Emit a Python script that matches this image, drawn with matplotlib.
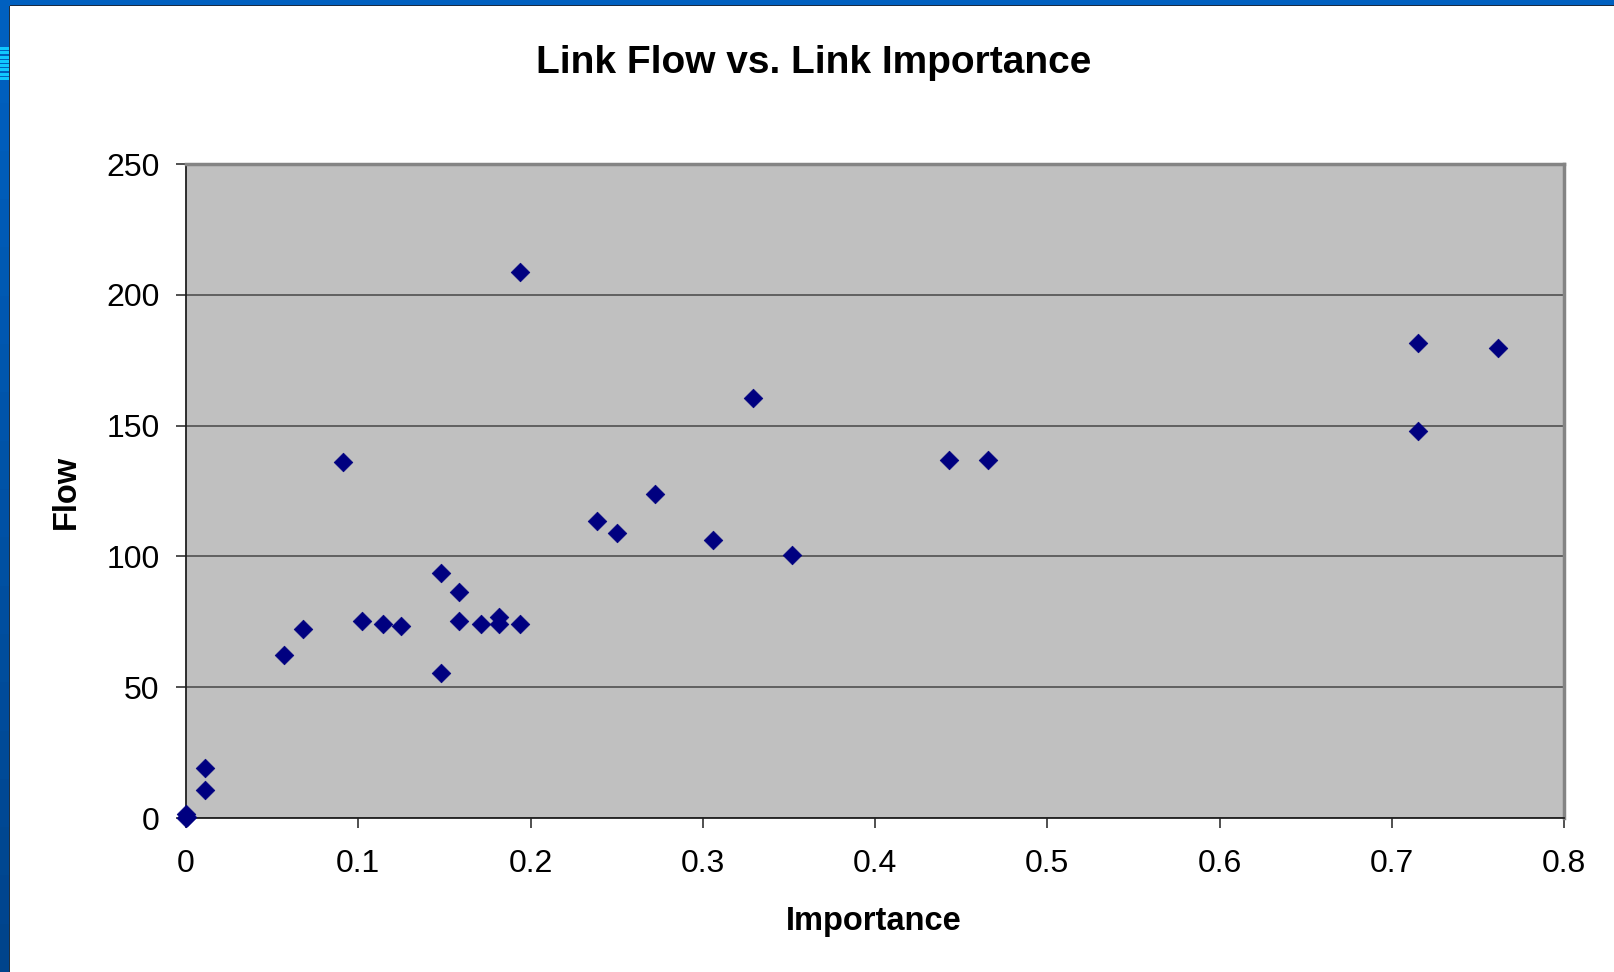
import matplotlib
matplotlib.use("Agg")
import matplotlib.pyplot as plt
from matplotlib.patches import Rectangle

plt.rcParams['font.family'] = ['Liberation Sans', 'DejaVu Sans']

importance = [0.0, 0.0, 0.0005, 0.011, 0.011, 0.0571, 0.0681, 0.0909, 0.1020, 0.1142,
              0.1248, 0.1478, 0.1478, 0.1587, 0.1587, 0.1711, 0.1819, 0.1819, 0.1939,
              0.1937, 0.2386, 0.2505, 0.2720, 0.3060, 0.3289, 0.3516, 0.4430, 0.4658,
              0.7154, 0.7154, 0.7615]
flow = [0.0, 1.5, 0.5, 19.0, 10.7, 62.2, 72.4, 136.0, 75.2, 74.2,
        73.4, 93.8, 55.4, 86.3, 75.2, 74.2, 76.9, 74.2, 74.2,
        208.7, 113.6, 108.9, 123.8, 106.1, 160.4, 100.6, 136.8, 136.8,
        181.6, 147.9, 179.8]

x_ticks = [0, 0.1, 0.2, 0.3, 0.4, 0.5, 0.6, 0.7, 0.8]
x_ticklabels = ["0", "0.1", "0.2", "0.3", "0.4", "0.5", "0.6", "0.7", "0.8"]
y_ticks = [0, 50, 100, 150, 200, 250]

W, H = 1614, 972
fig = plt.figure(figsize=(W / 100, H / 100), dpi=100)
fig.patch.set_facecolor("white")

# window frame decoration
def px_rect(x0, y0, w, h, color):
    fig.patches.append(Rectangle((x0 / W, 1 - (y0 + h) / H), w / W, h / H,
                                 transform=fig.transFigure, color=color, zorder=0, lw=0))

px_rect(0, 0, W, 6, "#0060C0")
px_rect(10, 5, W, 1.5, "#1a2a40")
nseg = 20
for i in range(nseg):
    r = i / (nseg - 1)
    c0 = (0x00, 0x60, 0xC0)
    c1 = (0x00, 0x44, 0x8C)
    col = tuple((c0[k] + (c1[k] - c0[k]) * r) / 255 for k in range(3))
    px_rect(0, 6 + i * (H - 6) / nseg, 9, (H - 6) / nseg + 1, col)
for i in range(8):
    px_rect(0, 47 + i * 4.3, 9, 3, "#10C8FF")
px_rect(9, 6, 1.3, H, "#203040")

ax = fig.add_axes([186 / W, 1 - 818 / H, (1564 - 186) / W, (818 - 164) / H])
ax.set_facecolor("#C0C0C0")

ax.scatter(importance, flow, marker="D", s=90, color="#000080", zorder=3,
           linewidths=0.5, edgecolors="#000080", clip_on=False)

ax.set_xlim(0, 0.8)
ax.set_ylim(0, 250)
ax.set_xticks(x_ticks)
ax.set_xticklabels(x_ticklabels)
ax.set_yticks(y_ticks)
ax.yaxis.grid(True, color="#585858", linewidth=1.3)
ax.set_axisbelow(True)

for side in ("left", "bottom"):
    ax.spines[side].set_color("#202020")
    ax.spines[side].set_linewidth(1.3)
for side in ("top", "right"):
    ax.spines[side].set_color("#848484")
    ax.spines[side].set_linewidth(2.5)

ax.tick_params(axis="both", direction="out", length=7, width=1.1, color="#202020",
               labelsize=23)
ax.tick_params(axis="x", pad=15)
ax.tick_params(axis="y", pad=12)

fig.text(814 / W, 1 - 63 / H, "Link Flow vs. Link Importance", fontsize=28,
         fontweight="bold", ha="center", va="center")
fig.text(874 / W, 1 - 921 / H, "Importance", fontsize=23.5, fontweight="bold",
         ha="center", va="center")
fig.text(66 / W, 1 - 492 / H, "Flow", fontsize=23.5, fontweight="bold",
         ha="center", va="center", rotation=90)

fig.savefig("out.png", dpi=100)
